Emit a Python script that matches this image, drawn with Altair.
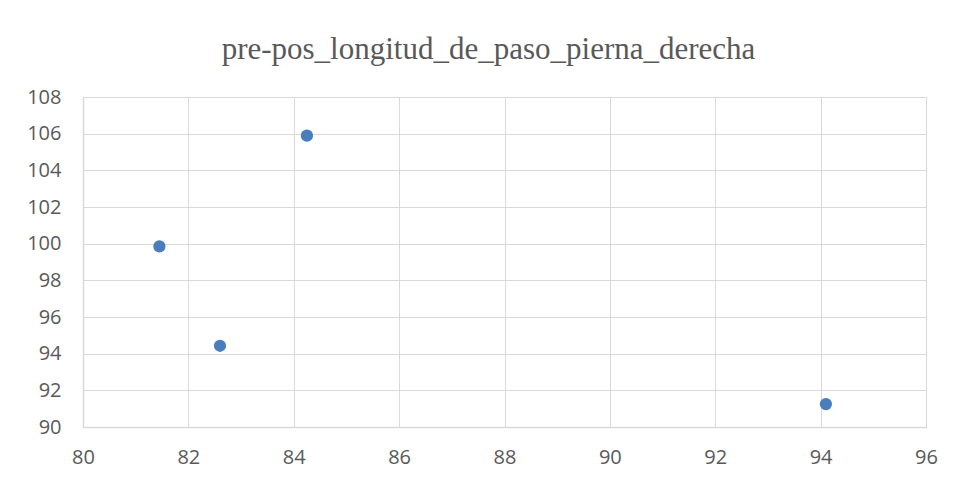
import altair as alt
import pandas as pd

x_vals = [81.45, 82.6, 84.25, 94.1]
y_vals = [99.85, 94.43, 105.89, 91.25]

df = pd.DataFrame({"x": x_vals, "y": y_vals})

grey = "#d9d9d9"
text = "#595959"

chart = alt.Chart(df).mark_circle(size=150, color="#4a7dbb", opacity=1).encode(
    x=alt.X("x:Q", scale=alt.Scale(domain=[80, 96], nice=False, zero=False),
            axis=alt.Axis(values=list(range(80, 97, 2)), title=None)),
    y=alt.Y("y:Q", scale=alt.Scale(domain=[90, 108], nice=False, zero=False),
            axis=alt.Axis(values=list(range(90, 109, 2)), title=None)),
).properties(
    width=843, height=330,
    title=alt.TitleParams("pre-pos_longitud_de_paso_pierna_derecha",
                          font="Liberation Serif", fontSize=31, fontWeight="normal",
                          color=text, anchor="middle", offset=21, dx=-16),
    autosize=alt.AutoSizeParams(type="none"),
    padding={"left": 75, "top": 89, "right": 20, "bottom": 45},
).configure_axis(
    gridColor=grey, gridWidth=1, domainColor=grey, domainWidth=1.5,
    ticks=False, labelFont="Open Sans", labelFontSize=20, labelColor=text,
    labelFlush=False,
).configure_axisY(labelPadding=22).configure_axisX(labelPadding=20).configure_view(
    stroke=grey, strokeWidth=1
)

chart.save("out.html", embed_options={"renderer": "svg", "actions": False})
